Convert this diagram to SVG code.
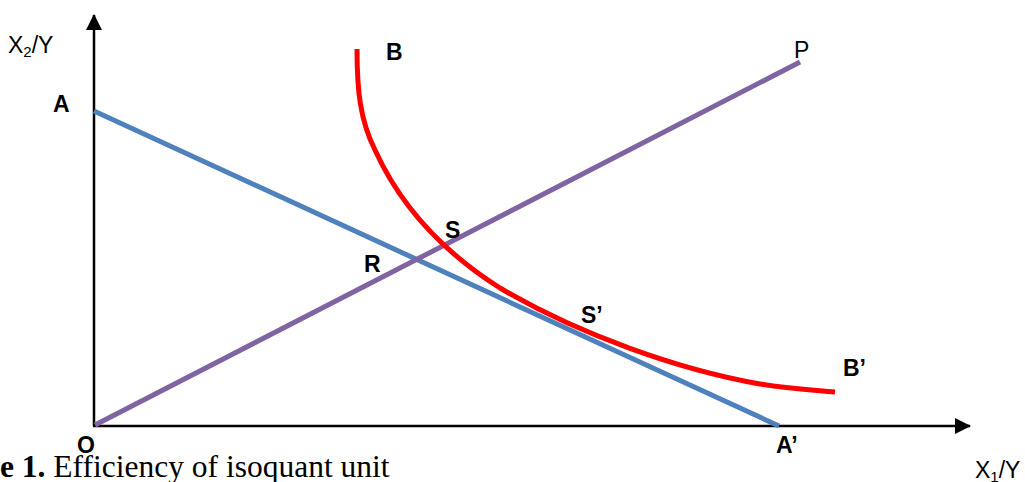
<svg xmlns="http://www.w3.org/2000/svg" width="1025" height="482" viewBox="0 0 1025 482">
<style>
.lbl{font-family:"Liberation Sans",Arial,sans-serif;font-size:23px;font-weight:bold;fill:#000}
.ax{font-family:"Liberation Sans",Arial,sans-serif;font-size:23px;fill:#000}
.cap{font-family:"Liberation Serif","Times New Roman",serif;font-size:31.5px;fill:#000}
.axis{stroke:#000;stroke-width:2.5;fill:none}
</style>
<defs>
<marker id="arr" viewBox="0 0 16 16" refX="15" refY="8" markerWidth="16" markerHeight="16" markerUnits="userSpaceOnUse" orient="auto">
<path d="M0,0 L16,8 L0,16 Z" fill="#000"/>
</marker>
</defs>
<g id="connectors">
<line class="axis" x1="94" y1="426" x2="94" y2="15" marker-end="url(#arr)"/>
<line class="axis" x1="93" y1="426" x2="970" y2="426" marker-end="url(#arr)"/>
<line id="AA" x1="94" y1="111" x2="779" y2="426" stroke="#4F81BD" stroke-width="5"/>
<line id="OP" x1="95" y1="425" x2="800" y2="62" stroke="#8064A2" stroke-width="5"/>
<path id="BB" d="M357,49 C357,90 360,120 375,150 C400,205 440,250 500,288 C580,335 680,370 760,384 C790,389 815,390 835,392" fill="none" stroke="#FF0000" stroke-width="5"/>
</g>
<g id="labels">
<text class="ax" x="8" y="53">X<tspan font-size="15" dy="4">2</tspan><tspan dy="-4">/Y</tspan></text>
<text class="lbl" x="53" y="112">A</text>
<text class="lbl" x="386" y="60">B</text>
<text class="ax" x="794" y="58">P</text>
<text class="lbl" x="445" y="238">S</text>
<text class="lbl" x="364" y="272">R</text>
<text class="lbl" x="581" y="323">S’</text>
<text class="lbl" x="843" y="376">B’</text>
<text class="lbl" x="776" y="453">A’</text>
<text class="lbl" x="77" y="453">O</text>
<text class="ax" x="975" y="478">X<tspan font-size="15" dy="4">1</tspan><tspan dy="-4">/Y</tspan></text>
<text class="cap" x="0" y="477"><tspan font-weight="bold">e 1.</tspan> Efficiency of isoquant unit</text>
</g>
</svg>
